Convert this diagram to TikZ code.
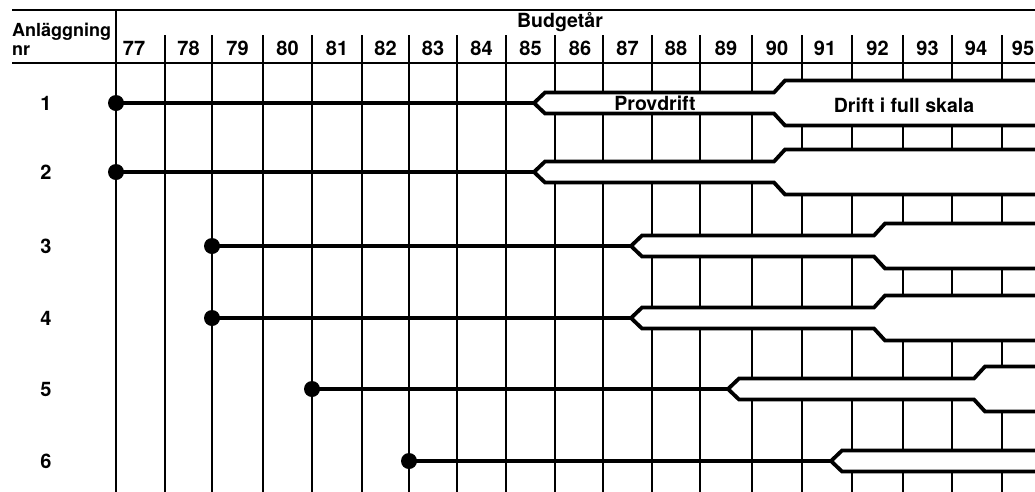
\documentclass[tikz,border=0pt]{standalone}
\usepackage{fontspec}
\setmainfont{TeX Gyre Heros}
\begin{document}
\begin{tikzpicture}[x=1pt,y=-1pt,
  grid/.style={line width=2pt},
  rowline/.style={line width=3.8pt, line join=miter},
  dot/.style={circle, fill=black, inner sep=0pt, minimum size=16pt},
  lab/.style={font=\fontsize{18}{20}\selectfont\bfseries, inner sep=0pt},
  ylab/.style={font=\fontsize{20}{22}\selectfont\bfseries, inner sep=0pt},
  blab/.style={font=\fontsize{19.5}{22}\selectfont\bfseries, inner sep=0pt},
]
\useasboundingbox (0,0) rectangle (1035,491);
\fill[white] (0,0) rectangle (1035,491);

% header rules
\coordinate (topL) at (12,10);  \coordinate (topR) at (1040,10);
\coordinate (midL) at (12,63);  \coordinate (midR) at (1040,63);
\draw[grid] (topL) -- (topR);
\draw[grid] (midL) -- (midR);

% vertical grid lines
\coordinate (v0t) at (116,10); \coordinate (v0b) at (116,492);
\draw[grid] (v0t) -- (v0b);
\foreach \x [count=\i] in {165,212,263,312,362,409,457,506,555,603,652,700,752,802,852,903,952,1002}{
  \coordinate (vt\i) at (\x,35); \coordinate (vb\i) at (\x,492);
  \draw[grid] (vt\i) -- (vb\i);
}

% header texts
\node[lab, anchor=base west] (anl) at (12,36) {Anläggning};
\node[lab, anchor=base west] (nr) at (12,55) {nr};
\node[blab, anchor=base] (budget) at (560,27) {Budgetår};
\foreach \t/\x in {77/134,78/188.5,79/237.5,80/287.5,81/337,82/385.5,83/433,84/481.5,85/530.5,86/580,87/627.5,88/676,89/726,90/777,91/825,92/877.5,93/927.5,94/976,95/1023}{
  \node[ylab, anchor=base] (y\t) at (\x,55) {\t};
}

% bands: white interiors
\foreach \n/\c/\xf/\xt in {1/103/506/752,2/172/506/752,3/246/603/852,4/318/603/852,5/389/700/952}{
  \fill[white] ({\xf+28},\c) -- ({\xf+39},{\c-10.5}) -- ({\xt+22},{\c-10.5}) -- ({\xt+33},{\c-22.5}) -- (1040,{\c-22.5})
     -- (1040,{\c+22.5}) -- ({\xt+33},{\c+22.5}) -- ({\xt+22},{\c+10.5}) -- ({\xf+39},{\c+10.5}) -- cycle;
}
\fill[white] (831,461) -- (842,450) -- (1040,450) -- (1040,472) -- (842,472) -- cycle;

% rows: start dot, single line, fork, band edges
\foreach \n/\c/\xd/\xf/\xt in {1/103/116/506/752,2/172/116/506/752,3/246/212/603/852,4/318/212/603/852,5/389/312/700/952}{
  \node[dot] (dot\n) at (\xd,\c) {};
  \coordinate (tip\n) at ({\xf+28},\c);
  \coordinate (up\n) at (1040,{\c-22.5});
  \coordinate (lo\n) at (1040,{\c+22.5});
  \draw[rowline] (dot\n.center) -- (tip\n);
  \draw[rowline] (tip\n) -- ({\xf+39},{\c-10.5}) -- ({\xt+22},{\c-10.5}) -- ({\xt+33},{\c-22.5}) -- (up\n);
  \draw[rowline] (tip\n) -- ({\xf+39},{\c+10.5}) -- ({\xt+22},{\c+10.5}) -- ({\xt+33},{\c+22.5}) -- (lo\n);
}
\node[dot] (dot6) at (409,461) {};
\coordinate (tip6) at (831,461);
\coordinate (up6) at (1040,450.5);
\coordinate (lo6) at (1040,471.5);
\draw[rowline] (dot6.center) -- (tip6);
\draw[rowline] (tip6) -- (842,450.5) -- (up6);
\draw[rowline] (tip6) -- (842,471.5) -- (lo6);

% band labels
\node[blab] (prov) at (655,103) {Provdrift};
\node[blab] (full) at (904,105) {Drift i full skala};

% row numbers
\foreach \n/\c in {1/103,2/172,3/246,4/318,5/389,6/461}{
  \node[ylab] (rn\n) at (46,\c) {\n};
}
\end{tikzpicture}
\end{document}
